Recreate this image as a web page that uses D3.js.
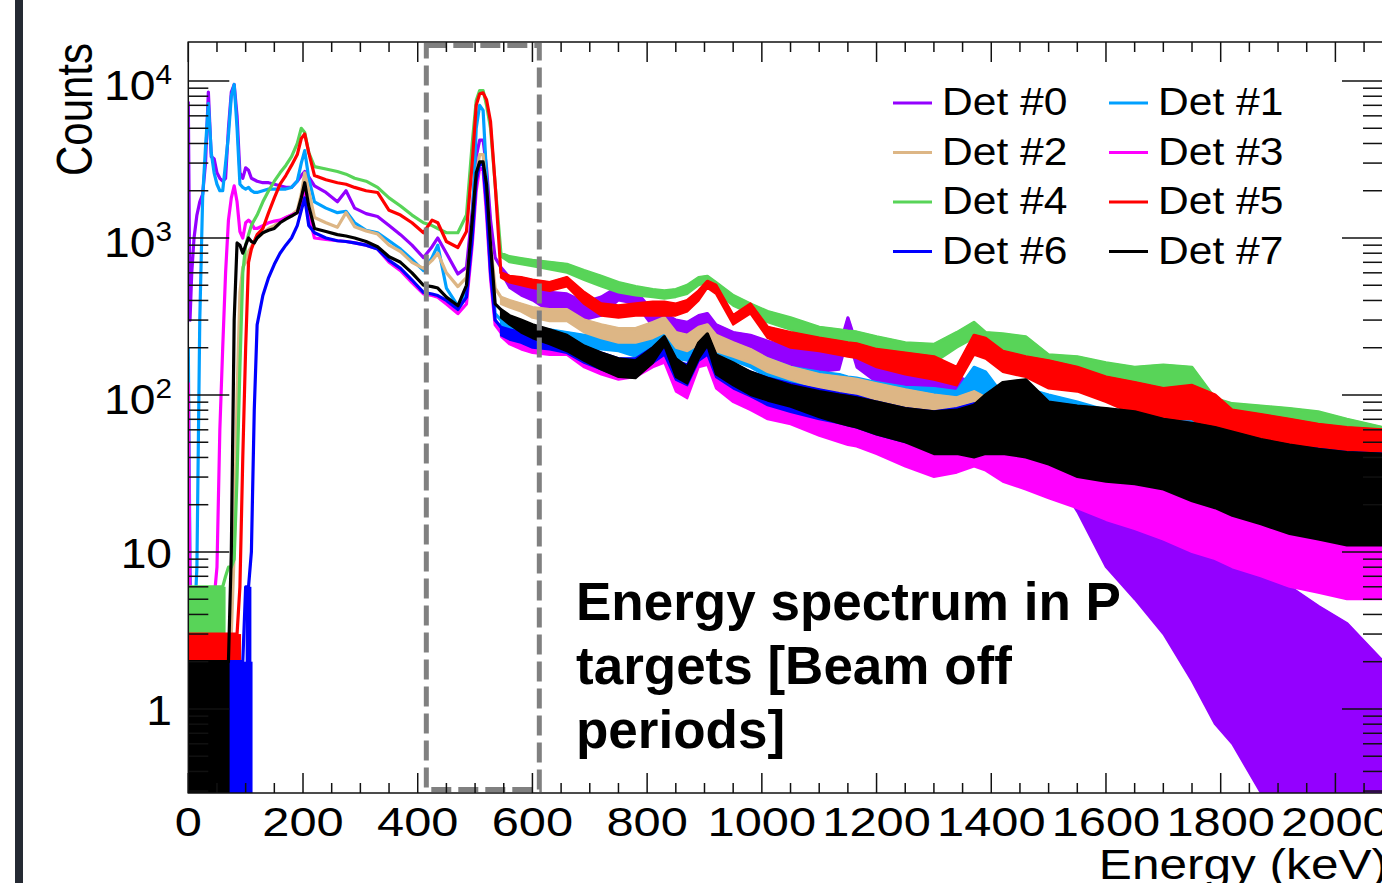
<!DOCTYPE html>
<html>
<head>
<meta charset="utf-8">
<script src="https://cdn.jsdelivr.net/npm/d3@7"></script>
<style>
  body { margin: 0; background: #fff; }
  svg { display: block; font-family: "Liberation Sans", Arial, Helvetica, sans-serif; }
</style>
</head>
<body>
<div id="chart"></div>
<script>
// energy grid in keV: fine steps below the 511 peak, coarser in the tail
const lowEnergy = [0, 3, 6, 10, 15, 20, 25, 30, 35, 40, 45, 50, 55, 60, 65, 70, 75, 80, 85, 90,
    95, 100, 105, 110, 115, 120, 130, 140, 150, 160, 170, 180, 190, 197, 203, 210, 220, 240, 260, 275,
    290, 310, 330, 350, 370, 390, 410, 425, 435, 450, 470, 485, 495, 502, 508, 514, 520, 527, 535]
const tailEnergy = [545, 560, 580, 600, 630, 660, 690, 720, 750, 780, 810, 830, 850, 870, 890, 905, 920, 950, 980, 1010,
    1050, 1100, 1135, 1150, 1165, 1200, 1250, 1300, 1340, 1370, 1390, 1420, 1460, 1500, 1550, 1600, 1650, 1700, 1750, 1790,
    1820, 1870, 1920, 1970, 2020, 2083]
const energy = lowEnergy.concat(tailEnergy)

// counts: upper edge on the whole grid, lower edge of the noise band on the tail grid
const det0Top = [7400, 300, 600, 1000, 1400, 1700, 1900, 3000, 8500, 3300, 3200, 2600, 2400, 2300, 2400, 5000, 8500, 9500, 6000, 2600,
    2400, 2800, 2700, 2400, 2350, 2300, 2250, 2250, 2200, 2150, 2100, 2100, 2300, 2500, 2650, 2450, 2150, 1950, 1700, 2000,
    1550, 1430, 1370, 1200, 1050, 900, 750, 880, 1000, 800, 590, 650, 1500, 3300, 4200, 4200, 2800, 1300, 750,
    650, 560, 520, 470, 450, 440, 390, 420, 490, 460, 340, 330, 300, 290, 320, 330, 280, 250, 240, 220,
    200, 190, 200, 310, 210, 175, 160, 140, 130, 120, 110, 100, 85, 65, 42, 24, 19, 15, 11, 9,
    8, 7, 6, 4.5, 3.5, 2]
const det0Bottom = [600, 480, 430, 400, 340, 330, 300, 320, 400, 380, 270, 260, 240, 235, 260, 270, 220, 190, 180, 170,
    150, 140, 145, 230, 150, 120, 105, 92, 85, 75, 68, 60, 45, 35, 18, 8, 5, 3, 1.5, 0.8,
    0.6, 0, 0, 0, 0, 0]

const det1Top = [200, 8, 3, 3, 8, 300, 1800, 3800, 7200, 3500, 2600, 2200, 2000, 2000, 3000, 4500, 8000, 9500, 5000, 2200,
    2100, 2050, 2100, 2000, 1950, 1950, 2000, 2050, 2050, 2050, 2050, 2100, 2300, 3000, 3600, 2400, 1700, 1550, 1450, 1480,
    1250, 1120, 1080, 960, 850, 730, 620, 750, 900, 480, 370, 450, 1200, 5000, 7000, 6500, 2500, 700, 330,
    300, 290, 280, 270, 260, 250, 240, 240, 230, 215, 230, 260, 220, 210, 240, 250, 220, 210, 190, 170,
    150, 140, 135, 130, 128, 120, 112, 110, 105, 150, 140, 100, 110, 100, 90, 80, 75, 72, 80, 70,
    55, 50, 46, 44, 42, 40]
const det1Bottom = [270, 255, 245, 235, 220, 210, 195, 195, 190, 175, 180, 210, 170, 165, 190, 200, 170, 165, 150, 130,
    110, 100, 97, 95, 93, 86, 80, 75, 72, 100, 95, 70, 75, 72, 60, 52, 48, 45, 45, 40,
    32, 28, 25, 24, 22, 21]

const det2Top = [2, 2, 2, 2, 2, 2, 2, 2, 2, 2, 2, 2, 2, 2, 2, 2, 3, 10, 100, 450,
    650, 700, 820, 880, 940, 1000, 1080, 1150, 1200, 1280, 1350, 1400, 1500, 1900, 2600, 2000, 1350, 1250, 1170, 1450,
    1180, 1110, 1060, 900, 820, 700, 640, 720, 800, 600, 490, 560, 1100, 2500, 3400, 3400, 2000, 900, 480,
    420, 400, 380, 360, 350, 350, 300, 280, 265, 265, 290, 310, 250, 240, 270, 280, 240, 215, 195, 170,
    150, 135, 130, 128, 126, 118, 108, 100, 96, 105, 96, 92, 88, 84, 78, 70, 64, 58, 54, 50,
    45, 40, 38, 35, 32, 30]
const det2Bottom = [380, 360, 340, 310, 295, 295, 250, 230, 215, 215, 230, 250, 200, 190, 210, 220, 190, 175, 160, 140,
    125, 110, 105, 103, 100, 92, 84, 76, 72, 76, 72, 66, 62, 58, 52, 45, 38, 30, 22, 16,
    13, 10, 9, 8, 8, 8]

const det3Top = [120, 6, 4, 3, 3, 3, 3, 3, 4, 4, 5, 8, 60, 200, 600, 1300, 1800, 2150, 1700, 1100,
    1000, 1250, 1300, 1250, 1150, 1150, 1200, 1250, 1280, 1300, 1350, 1400, 1450, 1700, 2000, 1400, 1000, 980, 960, 950,
    930, 900, 850, 700, 620, 520, 440, 430, 420, 380, 330, 380, 900, 2000, 2800, 2700, 1400, 550, 280,
    250, 240, 230, 220, 215, 215, 185, 170, 160, 165, 190, 200, 140, 130, 190, 200, 150, 130, 120, 100,
    95, 85, 80, 78, 76, 65, 60, 55, 60, 65, 60, 55, 50, 42, 36, 32, 30, 28, 25, 23,
    22, 21, 20, 18, 17, 16]
const det3Bottom = [235, 210, 195, 185, 180, 180, 150, 135, 125, 130, 150, 160, 105, 95, 150, 155, 110, 90, 80, 70,
    65, 55, 50, 48, 47, 42, 35, 30, 32, 35, 33, 28, 25, 22, 19, 16, 14, 12, 10, 9,
    8, 7, 6, 5.5, 5, 5]

const det4Top = [6, 6, 6, 6, 6, 6, 6, 6, 6, 6, 6, 6, 6, 6, 7, 8, 8, 9, 30, 150,
    600, 900, 1050, 1200, 1300, 1400, 1700, 2000, 2300, 2600, 2900, 3300, 4000, 5000, 4700, 3500, 2850, 2750, 2650, 2550,
    2400, 2300, 2100, 1800, 1600, 1400, 1250, 1200, 1150, 1080, 1080, 1400, 4000, 7500, 8700, 8700, 7000, 5000, 2200,
    800, 760, 740, 720, 700, 680, 620, 570, 520, 490, 470, 460, 470, 500, 560, 570, 520, 430, 380, 340,
    310, 270, 260, 255, 252, 235, 215, 210, 250, 290, 250, 245, 235, 180, 175, 160, 150, 155, 150, 95,
    88, 85, 82, 78, 70, 62]
const det4Bottom = [760, 700, 680, 660, 630, 600, 540, 490, 450, 430, 420, 410, 420, 440, 500, 520, 450, 370, 330, 290,
    260, 220, 210, 205, 202, 190, 170, 160, 200, 230, 200, 185, 170, 130, 125, 120, 112, 110, 105, 68,
    62, 60, 58, 55, 50, 48]

const det5Top = [3, 3, 3, 3, 3, 3, 3, 3, 3, 3, 3, 3, 3, 3, 3, 3, 3, 3, 3, 6,
    40, 200, 700, 850, 950, 1050, 1150, 1450, 1800, 2200, 2500, 2900, 3400, 4300, 4600, 3500, 2500, 2350, 2250, 2200,
    2100, 2000, 1950, 1500, 1400, 1250, 1080, 1300, 1250, 950, 870, 1100, 3000, 7000, 8300, 8400, 7600, 5500, 2200,
    600, 570, 560, 540, 520, 560, 450, 380, 370, 380, 390, 390, 380, 400, 460, 530, 500, 320, 380, 270,
    250, 230, 220, 215, 212, 195, 185, 175, 150, 240, 230, 190, 175, 165, 150, 130, 120, 110, 115, 100,
    80, 75, 70, 65, 62, 60]
const det5Bottom = [560, 520, 500, 480, 460, 490, 380, 320, 310, 320, 320, 320, 320, 340, 400, 480, 440, 280, 330, 230,
    200, 190, 180, 175, 172, 150, 135, 125, 115, 180, 170, 140, 130, 110, 105, 90, 75, 70, 70, 55,
    45, 40, 37, 35, 33, 32]

const det6Top = [2, 2, 2, 2, 2, 2, 2, 2, 2, 2, 2, 2, 2, 2, 2, 2, 2, 2, 2, 2,
    2, 6, 6, 10, 80, 280, 430, 560, 680, 800, 900, 1000, 1200, 1500, 1800, 1200, 1080, 1000, 960, 950,
    930, 900, 850, 720, 640, 540, 450, 440, 430, 400, 350, 420, 1000, 2300, 3000, 2900, 1600, 600, 300,
    270, 260, 250, 240, 235, 230, 200, 185, 170, 170, 200, 225, 165, 155, 210, 230, 175, 155, 140, 128,
    118, 108, 102, 100, 98, 90, 82, 78, 82, 88, 85, 110, 115, 85, 80, 72, 68, 64, 60, 56,
    54, 50, 47, 45, 43, 42]
const det6Bottom = [240, 225, 215, 200, 195, 185, 160, 145, 132, 132, 160, 180, 125, 115, 165, 180, 130, 110, 98, 86,
    78, 70, 66, 64, 62, 56, 50, 46, 50, 52, 48, 60, 65, 45, 42, 37, 33, 30, 28, 26,
    25, 23, 21, 20, 19, 18]

const det7Top = [2, 2, 2, 2, 2, 2, 2, 2, 2, 2, 2, 2, 2, 2, 2, 2, 10, 300, 930, 900,
    800, 900, 1000, 950, 930, 1000, 1080, 1120, 1150, 1250, 1320, 1380, 1450, 1800, 2250, 1600, 1150, 1100, 1050, 1030,
    1000, 950, 880, 760, 700, 600, 500, 490, 480, 420, 370, 500, 1300, 2600, 3050, 3050, 2200, 900, 380,
    350, 320, 300, 280, 260, 240, 205, 185, 170, 165, 200, 235, 170, 150, 215, 245, 180, 160, 140, 128,
    115, 105, 100, 98, 96, 90, 82, 78, 80, 86, 100, 120, 125, 90, 85, 82, 78, 70, 66, 62,
    58, 52, 48, 45, 43, 42]
const det7Bottom = [310, 280, 250, 230, 210, 190, 165, 145, 130, 128, 160, 205, 130, 118, 170, 205, 135, 115, 100, 92,
    84, 72, 66, 64, 62, 56, 50, 42, 42, 40, 42, 42, 40, 36, 30, 28, 27, 25, 21, 19,
    17, 15, 13, 12, 11, 11]

// bins with only a few counts near threshold: filled down to the axis
const blockDet = [4, 5, 6, 6, 7]
const blockFrom = [0, 0, 68, 100, 0]
const blockTo = [65, 92, 112, 110, 72]
const blockLevel = [6, 3, 2, 6, 2]

const detNames = ['Det #0', 'Det #1', 'Det #2', 'Det #3', 'Det #4', 'Det #5', 'Det #6', 'Det #7']
const detColors = ['#9400ff', '#00a0ff', '#ddb685', '#ff00ff', '#58d458', '#ff0000', '#0000ff', '#000000']

const xTickLabels = [0, 200, 400, 600, 800, 1000, 1200, 1400, 1600, 1800, 2000]
const yTickValues = [10000, 1000, 100, 10, 1]
const yTickBase = ['10', '10', '10', '10', '1']
const yTickExp = ['4', '3', '2', '', '']
const boxRange = [415, 612]
const noteLines = ['Energy spectrum in P', 'targets [Beam off', 'periods]']

const detTop = [det0Top, det1Top, det2Top, det3Top, det4Top, det5Top, det6Top, det7Top]
const detBottom = [det0Bottom, det1Bottom, det2Bottom, det3Bottom, det4Bottom, det5Bottom, det6Bottom, det7Bottom]

const W = 1382, H = 883
const frame = { left: 188.3, right: 1383, top: 42, bottom: 793 }
const yMin = 0.2915

const x = d3.scaleLinear().domain([0, 2083]).range([frame.left, frame.right])
const y = d3.scaleLog().domain([yMin, 17720]).range([frame.bottom, frame.top])
const yv = v => y(Math.max(v, yMin)) // empty bins sit on the axis

const svg = d3.select('#chart').append('svg')
    .attr('width', W)
    .attr('height', H)

svg.append('rect').attr('width', W).attr('height', H).attr('fill', '#fff')
// dark strip at the left edge of the slide
svg.append('rect').attr('x', 15).attr('y', 0).attr('width', 8).attr('height', H).attr('fill', '#252a33')

svg.append('clipPath').attr('id', 'plotclip')
    .append('rect')
    .attr('x', frame.left).attr('y', frame.top)
    .attr('width', frame.right - frame.left).attr('height', frame.bottom - frame.top)

const plot = svg.append('g').attr('clip-path', 'url(#plotclip)')
const offset = energy.length - tailEnergy.length

detTop.forEach((top, i) => {
    const color = detColors[i]
    const g = plot.append('g')

    blockDet.forEach((d, k) => {
        if (d !== i) return
        g.append('rect')
            .attr('x', x(blockFrom[k]))
            .attr('y', yv(blockLevel[k]))
            .attr('width', x(blockTo[k]) - x(blockFrom[k]))
            .attr('height', frame.bottom - yv(blockLevel[k]))
            .attr('fill', color)
    })

    // statistical noise band of the tail
    const band = tailEnergy.map((e, k) => ({ e: e, lo: detBottom[i][k], hi: top[offset + k] }))
    g.append('path')
        .datum(band)
        .attr('fill', color)
        .attr('stroke', color)
        .attr('stroke-width', 2)
        .attr('stroke-linejoin', 'round')
        .attr('d', d3.area()
            .x(d => x(d.e))
            .y0(d => yv(d.lo))
            .y1(d => yv(d.hi)))

    g.append('path')
        .datum(energy.map((e, k) => ({ e: e, v: top[k] })))
        .attr('fill', 'none')
        .attr('stroke', color)
        .attr('stroke-width', 3.2)
        .attr('stroke-linejoin', 'round')
        .attr('d', d3.line()
            .x(d => x(d.e))
            .y(d => yv(d.v)))
})

// dashed region around the 511 keV peak
svg.append('rect')
    .attr('x', x(boxRange[0]))
    .attr('y', frame.top + 3.5)
    .attr('width', x(boxRange[1]) - x(boxRange[0]))
    .attr('height', frame.bottom - frame.top - 7)
    .attr('fill', 'none')
    .attr('stroke', '#808080')
    .attr('stroke-width', 5)
    .attr('stroke-dasharray', '20,7')

// frame and ticks on all four sides
const axes = svg.append('g').attr('stroke', '#111').attr('stroke-width', 1.5)
axes.append('rect')
    .attr('x', frame.left).attr('y', frame.top)
    .attr('width', frame.right - frame.left).attr('height', frame.bottom - frame.top)
    .attr('fill', 'none')

d3.range(0, 2083, 50).forEach(e => {
    const len = e % 200 === 0 ? 20 : 10
    axes.append('line').attr('x1', x(e)).attr('x2', x(e)).attr('y1', frame.bottom).attr('y2', frame.bottom - len)
    axes.append('line').attr('x1', x(e)).attr('x2', x(e)).attr('y1', frame.top).attr('y2', frame.top + len)
})

const yMinor = []
for (let p = -1; p <= 4; p++) {
    for (let m = 1; m <= 9; m++) {
        const v = m * Math.pow(10, p)
        if (v >= yMin && v <= 17720) yMinor.push({ v: v, major: m === 1 })
    }
}
yMinor.forEach(t => {
    const len = t.major ? 41 : 20
    axes.append('line').attr('x1', frame.left).attr('x2', frame.left + len).attr('y1', y(t.v)).attr('y2', y(t.v))
    axes.append('line').attr('x1', frame.right).attr('x2', frame.right - len).attr('y1', y(t.v)).attr('y2', y(t.v))
})

// axis labels (the original canvas is a little stretched sideways)
xTickLabels.forEach(v => {
    svg.append('text')
        .attr('transform', `translate(${x(v)},836) scale(1.22,1)`)
        .attr('text-anchor', 'middle')
        .attr('font-size', 40)
        .text(v)
})

yTickValues.forEach((v, i) => {
    const t = svg.append('text')
        .attr('transform', `translate(172,${y(v) + (yTickExp[i] ? 19 : 16)}) scale(1.1,1)`)
        .attr('text-anchor', 'end')
        .attr('font-size', 42)
    t.append('tspan').text(yTickBase[i])
    if (yTickExp[i]) {
        t.append('tspan').attr('font-size', 27).attr('dy', -16).text(yTickExp[i])
    }
})

svg.append('text')
    .attr('transform', 'translate(1388,879) scale(1.18,1)')
    .attr('text-anchor', 'end')
    .attr('font-size', 42)
    .text('Energy (keV)')

svg.append('text')
    .attr('transform', 'translate(92,43) scale(1.18,1) rotate(-90)')
    .attr('text-anchor', 'end')
    .attr('font-size', 42)
    .text('Counts')

// legend, two columns
detNames.forEach((name, i) => {
    const col = i % 2, row = Math.floor(i / 2)
    const lx = col === 0 ? 893 : 1109
    const ly = 103 + row * 49.5
    svg.append('line')
        .attr('x1', lx).attr('x2', lx + 39)
        .attr('y1', ly).attr('y2', ly)
        .attr('stroke', detColors[i])
        .attr('stroke-width', 3)
    svg.append('text')
        .attr('transform', `translate(${lx + 49},${ly + 12}) scale(1.12,1)`)
        .attr('font-size', 38)
        .text(name)
})

noteLines.forEach((s, i) => {
    svg.append('text')
        .attr('x', 576)
        .attr('y', 620 + i * 64)
        .attr('font-size', 53)
        .attr('font-weight', 'bold')
        .text(s)
})
</script>
</body>
</html>
